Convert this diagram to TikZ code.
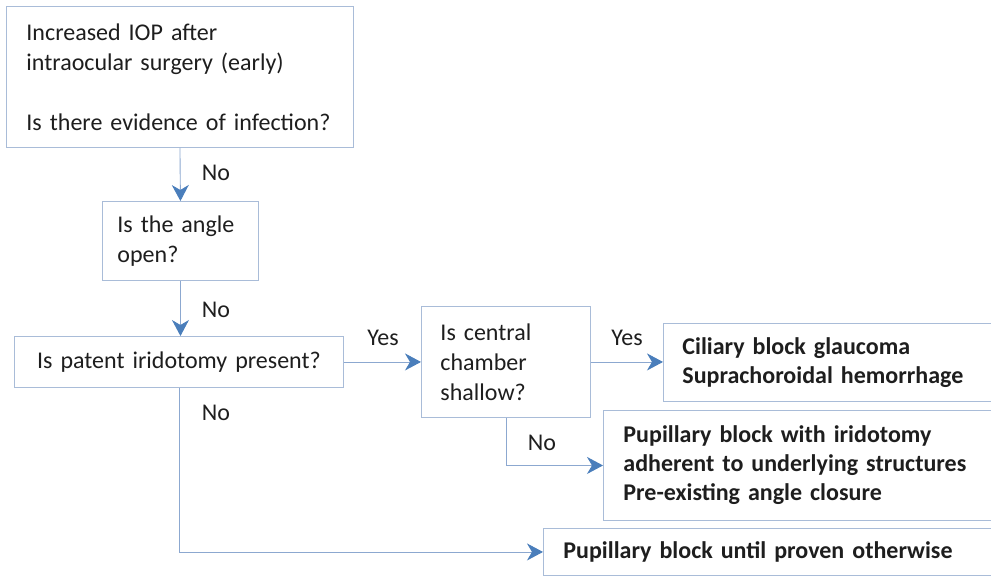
\documentclass[tikz,border=0pt]{standalone}
\usepackage{fontspec}
\setmainfont{Carlito}
\usetikzlibrary{arrows.meta}
\definecolor{boxline}{HTML}{A9BCD8}
\definecolor{conline}{HTML}{8CA8D0}
\definecolor{tipblue}{HTML}{4A7EBB}
\definecolor{txt}{HTML}{1E1E1E}
\tikzset{
  box/.style={draw=boxline, line width=0.9pt, fill=white, anchor=north west, text=txt,
    font=\fontsize{24}{30}\selectfont, align=left, inner ysep=0pt},
  bbox/.style={box, font=\bfseries\fontsize{24}{29}\selectfont},
  tipstyle/.tip={Stealth[length=16pt,width=17pt,inset=5pt,tipblue]},
  conn/.style={draw=conline, line width=0.9pt, -tipstyle},
  lbl/.style={text=txt, font=\fontsize{24}{30}\selectfont, inner sep=0pt}
}
\begin{document}
\begin{tikzpicture}[x=1pt,y=-1pt]
\useasboundingbox (0,0) rectangle (991,579);
\clip (0,0) rectangle (991,579);
\node[box, minimum width=347pt, minimum height=141pt, text width=307pt, inner xsep=20pt] (b1) at (6,6)
  {Increased IOP after\\intraocular surgery (early)\\[30pt]Is there evidence of infection?};
\node[box, minimum width=156pt, minimum height=79pt, text width=126pt, inner xsep=15pt] (b2) at (102,201)
  {Is the angle\\open?};
\node[box, minimum width=329pt, minimum height=51pt, text width=309pt, inner xsep=10pt, align=center] (b3) at (14,336)
  {Is patent iridotomy present?};
\node[box, minimum width=169pt, minimum height=111pt, text width=131pt, inner xsep=19pt] (b4) at (421,306)
  {Is central\\chamber\\shallow?};
\node[bbox, minimum width=337pt, minimum height=78pt, text width=299pt, inner xsep=19pt] (b5) at (663,323)
  {Ciliary block glaucoma\\Suprachoroidal hemorrhage};
\node[bbox, minimum width=397pt, minimum height=110pt, text width=357pt, inner xsep=20pt] (b6) at (603,410)
  {Pupillary block with iridotomy\\adherent to underlying structures\\Pre-existing angle closure};
\node[bbox, minimum width=457pt, minimum height=47pt, text width=417pt, inner xsep=20pt] (b7) at (543,528)
  {Pupillary block until proven otherwise};
\draw[conn] (b1.south) -- (b2.north);
\draw[conn] (b2.south) -- (b2.south |- b3.north);
\draw[conn] (b3.east) -- (b4.west);
\draw[conn] (b4.east) -- (b4.east -| b5.west);
\draw[conn] ([xshift=85pt]b4.south west) |- (b6.west);
\draw[conn] ([xshift=165pt]b3.south west) |- (b7.west);
\node[lbl] (l1) at (216,173) {No};
\node[lbl] (l2) at (216,310) {No};
\node[lbl] (l3) at (383,338) {Yes};
\node[lbl] (l4) at (627,338) {Yes};
\node[lbl] (l5) at (542,443) {No};
\node[lbl] (l6) at (216,413) {No};
\end{tikzpicture}
\end{document}
